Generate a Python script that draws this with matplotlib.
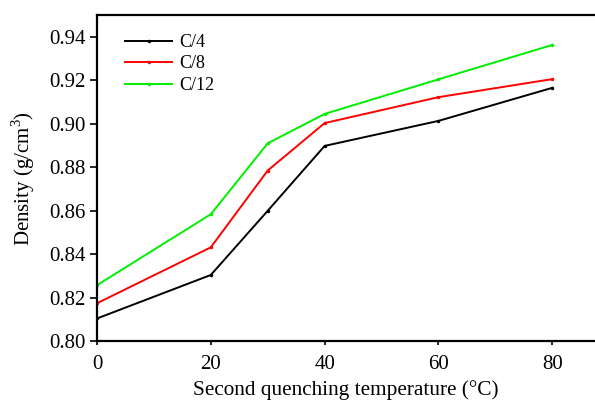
import numpy as np
import matplotlib
matplotlib.use("Agg")
import matplotlib.pyplot as plt
from matplotlib import rcParams

rcParams['font.family'] = 'serif'
rcParams['font.serif'] = ['Liberation Serif', 'DejaVu Serif']
rcParams['mathtext.fontset'] = 'custom'
rcParams['mathtext.rm'] = 'Liberation Serif'

# %% data
temperature = [0, 20, 30, 40, 60, 80]
density_c4 = [0.8105, 0.8305, 0.8600, 0.8898, 0.9013, 0.9165]
density_c8 = [0.8175, 0.8432, 0.8785, 0.9003, 0.9122, 0.9205]
density_c12 = [0.8258, 0.8584, 0.8910, 0.9045, 0.9204, 0.9362]

series = [
    ("C/4", density_c4, "black"),
    ("C/8", density_c8, "red"),
    ("C/12", density_c12, "#00ee00"),
]

# %% plot
fig = plt.figure(figsize=(5.95, 4.03), dpi=100)
ax = fig.add_axes([0.163, 0.153, 0.837, 0.81])

for name, vals, col in series:
    ax.plot(temperature, vals, color=col, linewidth=1.4,
            marker='o', markersize=1.5, label=name)

ax.set_xlim(0, 87.5)
ax.set_ylim(0.80, 0.95)
ax.set_xticks([0, 20, 40, 60, 80])
ax.set_yticks(np.arange(0.80, 0.941, 0.02))
ax.set_yticklabels([f"{v:.2f}" for v in np.arange(0.80, 0.941, 0.02)])

ax.spines['right'].set_visible(False)
for s in ['left', 'bottom', 'top']:
    ax.spines[s].set_linewidth(1.6)

ax.tick_params(axis='y', which='major', direction='out', length=5,
               width=1.2, labelsize=15, pad=3)
ax.tick_params(axis='x', which='major', direction='out', length=3,
               width=1.2, labelsize=15, pad=7)

ax.set_xlabel("Second quenching temperature (°C)", fontsize=15.3, labelpad=4)
ax.set_ylabel("Density (g/cm$^3$)", fontsize=15, labelpad=9)

ax.legend(loc="upper left", bbox_to_anchor=(0.035, 0.975), fontsize=13,
          frameon=False, handlelength=2.6, handletextpad=0.4,
          labelspacing=0.25, borderaxespad=0.2)

fig.savefig("out.png", dpi=100)
